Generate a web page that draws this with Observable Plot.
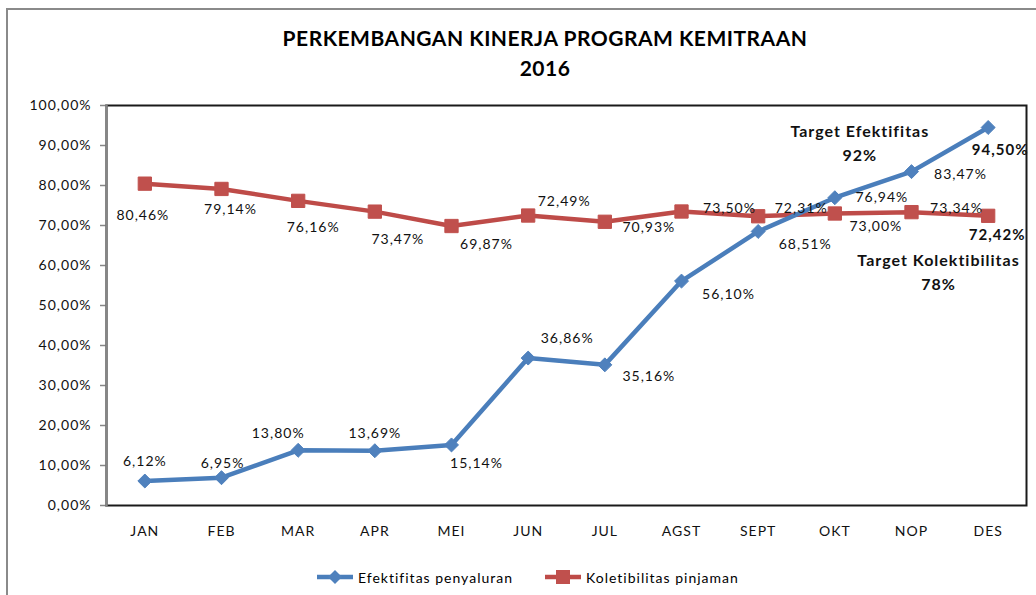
<!DOCTYPE html>
<html>
<head>
<meta charset="utf-8">
<script src="https://cdn.jsdelivr.net/npm/d3@7"></script>
<script src="https://cdn.jsdelivr.net/npm/@observablehq/plot@0.6"></script>
<style>
  html, body { margin: 0; padding: 0; background: #fff; }
  #wrap { position: relative; width: 1036px; height: 595px; overflow: hidden; font-family: Lato, "Open Sans", sans-serif; }
  #border { position: absolute; left: 6px; top: 8px; width: 1100px; height: 700px; border: 2px solid #8a8a8a; box-sizing: border-box; }
  #title { position: relative; height: 95px; text-align: center; width: 1090px; font-weight: bold; font-size: 21px; letter-spacing: 0.5px; color: #000; }
  #title div { position: absolute; left: 0; width: 100%; }
  #chart { position: relative; }
  #legend { position: absolute; top: 566px; left: 317px; height: 22px; display: flex; align-items: center; font-size: 14px; letter-spacing: 1px; color: #000; }
  #legend .item { display: flex; align-items: center; }
</style>
</head>
<body>
<div id="wrap">
  <div id="border"></div>
  <div id="title">
    <div style="top:25px">PERKEMBANGAN KINERJA PROGRAM KEMITRAAN</div>
    <div style="top:55px">2016</div>
  </div>
  <div id="chart"></div>
  <div id="legend"></div>
</div>
<script>
// ---- data ----
const months = ["JAN","FEB","MAR","APR","MEI","JUN","JUL","AGST","SEPT","OKT","NOP","DES"];
const efektifitas = [6.12, 6.95, 13.80, 13.69, 15.14, 36.86, 35.16, 56.10, 68.51, 76.94, 83.47, 94.50];
const koletibilitas = [80.46, 79.14, 76.16, 73.47, 69.87, 72.49, 70.93, 73.50, 72.31, 73.00, 73.34, 72.42];
const yTicks = [0, 10, 20, 30, 40, 50, 60, 70, 80, 90, 100];
const seriesNames = ["Efektifitas penyaluran", "Koletibilitas pinjaman"];
const annotations = [
  {month: "OKT", value: 91, text: "Target Efektifitas\n92%"},
  {month: "NOP", value: 58.9, text: "Target Kolektibilitas\n78%"}
];

// ---- layout (label offsets in px relative to each point) ----
const efOffsets = [[0,-20],[1,-14],[-20,-17],[0,-17],[25,19],[39,-20],[44,12],[47,13],[47,13],[47,0],[49,3],[12,23]];
const koOffsets = [[-2,32],[9,21],[15,27],[23,28],[35,18],[36,-14],[44,6],[48,-3],[43,-8],[41,13],[45,-4],[9,19]];
const annOffsets = [25, 27];

const blueLine = "#4A7EBB", blueFill = "#4F81BD";
const redLine = "#BE4B48", redFill = "#C0504D";

const ef = months.map((m, i) => ({month: m, value: efektifitas[i]}));
const ko = months.map((m, i) => ({month: m, value: koletibilitas[i]}));
const fmt = v => v.toFixed(2).replace(".", ",") + "%";

function labelMarks(rows, offsets) {
  return rows.map((r, i) => Plot.text([r], {
    x: "month", y: "value", text: d => fmt(d.value),
    dx: offsets[i][0], dy: offsets[i][1],
    fontSize: i === rows.length - 1 ? 15 : 14,
    fontWeight: i === rows.length - 1 ? "bold" : "normal",
    fill: "#111", lineAnchor: "middle", textAnchor: "middle"
  }));
}

const plot = Plot.plot({
  width: 1036,
  height: 450,
  marginTop: 10,
  marginBottom: 40,
  marginLeft: 106,
  marginRight: 10,
  style: {fontFamily: "Lato, 'Open Sans', sans-serif", fontSize: "14px", letterSpacing: "1px", overflow: "visible", background: "transparent"},
  x: {type: "point", domain: months, padding: 0.5, round: false, label: null},
  y: {domain: [0, 100], label: null},
  marks: [
    Plot.axisY({ticks: yTicks, tickFormat: fmt, tickSize: 6, tickPadding: 9, stroke: "#868686", strokeWidth: 1.5, fill: "#111", fontSize: 14, label: null}),
    Plot.axisX({tickSize: 0, tickPadding: 21, fill: "#111", fontSize: 14, label: null}),
    Plot.frame({stroke: "#1a1a1a", strokeWidth: 2}),
    Plot.frame({anchor: "left", stroke: "#868686", strokeWidth: 2.5}),
    Plot.line(ko, {x: "month", y: "value", stroke: redLine, strokeWidth: 4.5}),
    Plot.line(ef, {x: "month", y: "value", stroke: blueLine, strokeWidth: 4.5}),
    Plot.dot(ko, {x: "month", y: "value", symbol: "square", r: 7.5, fill: redFill, stroke: redFill, strokeWidth: 1}),
    Plot.dot(ef, {x: "month", y: "value", symbol: "diamond2", r: 6.3, fill: blueFill, stroke: blueFill, strokeWidth: 1}),
    ...labelMarks(ko, koOffsets),
    ...labelMarks(ef, efOffsets),
    ...annotations.map((a, i) => Plot.text([a], {
      x: "month", y: "value", text: "text", dx: annOffsets[i],
      fontSize: 16, fontWeight: "bold", lineHeight: 1.5, fill: "#111",
      lineAnchor: "middle", textAnchor: "middle", letterSpacing: "0.5px"
    }))
  ]
});
document.getElementById("chart").appendChild(plot);

// ---- legend ----
const legend = document.getElementById("legend");
const legendItems = [
  {name: seriesNames[0], line: blueLine, fill: blueFill, shape: "diamond"},
  {name: seriesNames[1], line: redLine, fill: redFill, shape: "square"}
];
legendItems.forEach((it, i) => {
  const item = document.createElement("div");
  item.className = "item";
  item.style.marginRight = i === 0 ? "32px" : "0";
  const marker = it.shape === "diamond"
    ? `<path d="M18,4 L25,11 L18,18 L11,11 Z" fill="${it.fill}"/>`
    : `<rect x="11" y="4" width="14" height="14" fill="${it.fill}"/>`;
  item.innerHTML = `<svg width="38" height="22" style="margin-right:3px"><line x1="0" y1="11" x2="36" y2="11" stroke="${it.line}" stroke-width="4.5"/>${marker}</svg><span>${it.name}</span>`;
  legend.appendChild(item);
});
</script>
</body>
</html>
